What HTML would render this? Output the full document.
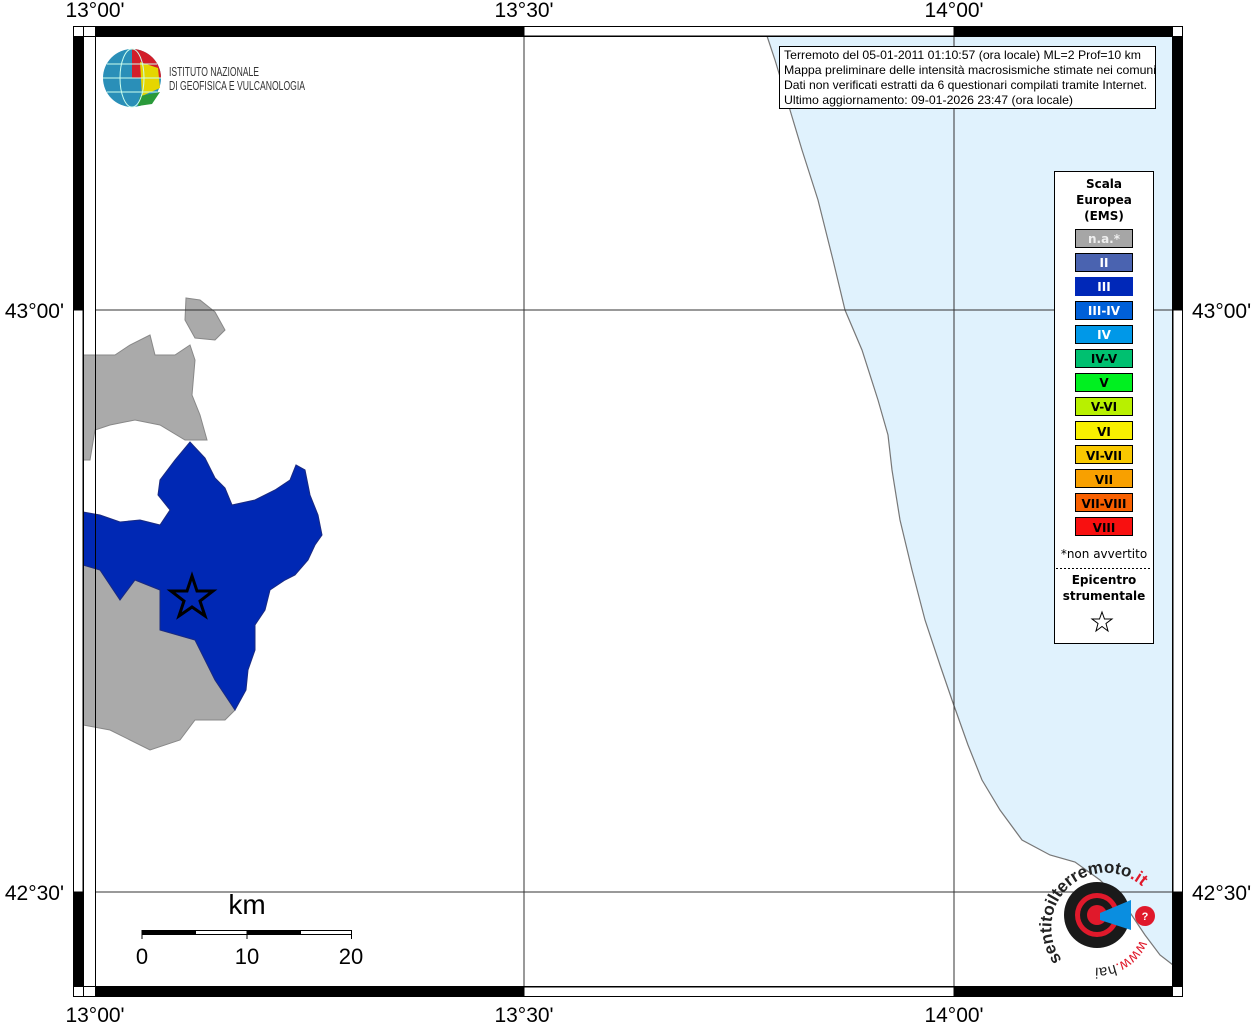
<!DOCTYPE html>
<html><head><meta charset="utf-8"><style>
body{margin:0;background:#fff;}
svg{font-family:"Liberation Sans",sans-serif;}
.dv{font-family:"DejaVu Sans",sans-serif;}
</style></head><body>
<svg width="1256" height="1024" viewBox="0 0 1256 1024" xmlns="http://www.w3.org/2000/svg">
<rect width="1256" height="1024" fill="#fff"/>
<!-- sea -->
<path d="M767,36 L775,60 L790,110 L802,150 L818,200 L833,260 L845,310 L862,350 L878,400 L888,435 L892,470 L900,520 L912,570 L925,620 L940,665 L952,700 L968,745 L982,780 L1000,810 L1022,840 L1050,855 L1075,862 L1100,880 L1125,905 L1145,935 L1160,955 L1173,965 L1173,36 Z" fill="#e0f2fd" stroke="none"/>
<path d="M767,36 L775,60 L790,110 L802,150 L818,200 L833,260 L845,310 L862,350 L878,400 L888,435 L892,470 L900,520 L912,570 L925,620 L940,665 L952,700 L968,745 L982,780 L1000,810 L1022,840 L1050,855 L1075,862 L1100,880 L1125,905 L1145,935 L1160,955 L1173,965" fill="none" stroke="#777" stroke-width="1.2"/>
<!-- gray lands -->
<path d="M186,298 L200,300 L215,312 L225,330 L215,340 L195,338 L185,320 Z" fill="#aaa" stroke="#888"/>
<path d="M83,355 L115,355 L130,345 L150,335 L155,355 L175,355 L190,345 L195,360 L192,395 L200,415 L207,440 L185,440 L160,425 L135,420 L110,425 L95,430 L90,460 L83,460 Z" fill="#aaa" stroke="#888"/>
<path d="M83,565 L100,570 L120,600 L135,580 L160,590 L160,630 L195,640 L215,680 L235,710 L225,720 L195,720 L180,740 L150,750 L130,740 L110,730 L83,725 Z" fill="#aaa" stroke="#888"/>
<!-- blue -->
<path d="M83,512 L100,515 L120,522 L140,520 L160,525 L170,510 L158,495 L160,480 L175,460 L190,442 L205,458 L215,478 L225,488 L232,505 L255,500 L275,490 L290,480 L296,465 L305,470 L310,495 L318,515 L322,535 L315,545 L308,560 L295,575 L285,580 L270,590 L265,610 L255,625 L255,650 L248,670 L246,690 L235,710 L215,680 L195,640 L160,630 L160,590 L135,580 L120,600 L100,570 L83,565 Z" fill="#0028b4" stroke="#1a2a80"/>
<!-- star -->
<polygon points="192,576 197,591 213,591 200,601 205,616 192,607 179,616 184,601 171,591 187,591" fill="none" stroke="#000" stroke-width="3"/>
<!-- grid -->
<g stroke="#333" stroke-width="1">
<line x1="524" y1="36" x2="524" y2="987"/><line x1="954" y1="36" x2="954" y2="987"/>
<line x1="95" y1="310" x2="1173" y2="310"/><line x1="95" y1="892" x2="1173" y2="892"/>
</g>
<!-- frame -->
<rect x="73.5" y="26.5" width="1109" height="970" fill="none" stroke="#000"/>
<rect x="95.5" y="36.5" width="1077" height="950" fill="none" stroke="#000"/>
<g fill="#000">
<rect x="95" y="26" width="429" height="10"/><rect x="954" y="26" width="219" height="10"/>
<rect x="95" y="987" width="429" height="10"/><rect x="954" y="987" width="219" height="10"/>
<rect x="73" y="36" width="10" height="274"/><rect x="73" y="892" width="10" height="95"/>
<rect x="1173" y="36" width="10" height="274"/><rect x="1173" y="892" width="10" height="95"/>
</g>
<g fill="none" stroke="#000" stroke-width="1">
<line x1="83.5" y1="26" x2="83.5" y2="997"/><line x1="1172.5" y1="26" x2="1172.5" y2="997"/>
<line x1="73" y1="36.5" x2="1183" y2="36.5"/><line x1="73" y1="986.5" x2="1183" y2="986.5"/>
<rect x="524" y="26.5" width="430" height="9.5"/><rect x="524" y="987" width="430" height="9.5"/>
<rect x="73.5" y="310" width="9.5" height="582"/><rect x="1173" y="310" width="9.5" height="582"/>
</g>
<!-- labels -->
<g font-size="21" fill="#000">
<text x="95" y="17" text-anchor="middle">13°00'</text>
<text x="524" y="17" text-anchor="middle">13°30'</text>
<text x="954" y="17" text-anchor="middle">14°00'</text>
<text x="95" y="1022" text-anchor="middle">13°00'</text>
<text x="524" y="1022" text-anchor="middle">13°30'</text>
<text x="954" y="1022" text-anchor="middle">14°00'</text>
<text x="64" y="318" text-anchor="end">43°00'</text>
<text x="64" y="900" text-anchor="end">42°30'</text>
<text x="1192" y="318">43°00'</text>
<text x="1192" y="900">42°30'</text>
</g>
<!-- INGV logo -->
<circle cx="132" cy="78" r="29" fill="#2a8fb8"/>
<path d="M132,49 A29,29 0 0,1 161,78 L132,78 Z" fill="#d21e2a"/>
<path d="M140,62 L158,68 L160,88 L142,96 Z" fill="#e5d600"/>
<path d="M140,96 L160,92 L152,104 L138,106 Z" fill="#2a9a3a"/>
<g stroke="#cfe" stroke-width="1" fill="none"><ellipse cx="132" cy="78" rx="12" ry="29"/><line x1="103" y1="78" x2="161" y2="78"/><line x1="107" y1="64" x2="157" y2="64"/><line x1="107" y1="92" x2="157" y2="92"/></g>
<text x="169" y="76" font-size="13" fill="#333" textLength="90" lengthAdjust="spacingAndGlyphs">ISTITUTO NAZIONALE</text>
<text x="169" y="90" font-size="13" fill="#333" textLength="136" lengthAdjust="spacingAndGlyphs">DI GEOFISICA E VULCANOLOGIA</text>
<!-- info box -->
<rect x="779.5" y="46.5" width="376" height="62" fill="#fff" stroke="#000"/>
<g font-size="12" fill="#000" lengthAdjust="spacingAndGlyphs">
<text x="784" y="59" textLength="357" lengthAdjust="spacingAndGlyphs">Terremoto del 05-01-2011 01:10:57 (ora locale) ML=2 Prof=10 km</text>
<text x="784" y="74" textLength="372" lengthAdjust="spacingAndGlyphs">Mappa preliminare delle intensità macrosismiche stimate nei comuni</text>
<text x="784" y="89" textLength="363" lengthAdjust="spacingAndGlyphs">Dati non verificati estratti da 6 questionari compilati tramite Internet.</text>
<text x="784" y="104" textLength="289" lengthAdjust="spacingAndGlyphs">Ultimo aggiornamento: 09-01-2026 23:47 (ora locale)</text>
</g>
<!-- legend -->
<rect x="1054.5" y="171.5" width="99" height="472" fill="#fff" stroke="#000"/>
<g class="dv" font-weight="bold" font-size="12" text-anchor="middle" fill="#000">
<text x="1104" y="188">Scala</text>
<text x="1104" y="204">Europea</text>
<text x="1104" y="220">(EMS)</text>
</g>
<g stroke="#000" stroke-width="1">
<rect x="1075.5" y="229.5" width="57" height="18" fill="#a6a6a6"/>
<rect x="1075.5" y="253.5" width="57" height="18" fill="#4a63b0"/>
<rect x="1075.5" y="277.5" width="57" height="18" fill="#0028b8" stroke="#0028b8"/>
<rect x="1075.5" y="301.5" width="57" height="18" fill="#0060d8"/>
<rect x="1075.5" y="325.5" width="57" height="18" fill="#0098e8"/>
<rect x="1075.5" y="349.5" width="57" height="18" fill="#00c070"/>
<rect x="1075.5" y="373.5" width="57" height="18" fill="#00f020"/>
<rect x="1075.5" y="397.5" width="57" height="18" fill="#b8f000"/>
<rect x="1075.5" y="421.5" width="57" height="18" fill="#f8f000"/>
<rect x="1075.5" y="445.5" width="57" height="18" fill="#f8c800"/>
<rect x="1075.5" y="469.5" width="57" height="18" fill="#f8a000"/>
<rect x="1075.5" y="493.5" width="57" height="18" fill="#f86000"/>
<rect x="1075.5" y="517.5" width="57" height="18" fill="#f81010"/>
</g>
<g class="dv" font-weight="bold" font-size="12" text-anchor="middle">
<text x="1104" y="243" fill="#eee">n.a.*</text>
<text x="1104" y="267" fill="#fff">II</text>
<text x="1104" y="291" fill="#fff">III</text>
<text x="1104" y="315" fill="#fff">III-IV</text>
<text x="1104" y="339" fill="#fff">IV</text>
<text x="1104" y="363" fill="#000">IV-V</text>
<text x="1104" y="387" fill="#000">V</text>
<text x="1104" y="411" fill="#000">V-VI</text>
<text x="1104" y="436" fill="#000">VI</text>
<text x="1104" y="460" fill="#000">VI-VII</text>
<text x="1104" y="484" fill="#000">VII</text>
<text x="1104" y="508" fill="#000">VII-VIII</text>
<text x="1104" y="532" fill="#000">VIII</text>
</g>
<text class="dv" x="1104" y="558" font-size="12" text-anchor="middle">*non avvertito</text>
<line x1="1056" y1="568.5" x2="1152" y2="568.5" stroke="#000" stroke-dasharray="2,2"/>
<g class="dv" font-weight="bold" font-size="12" text-anchor="middle">
<text x="1104" y="584">Epicentro</text>
<text x="1104" y="600">strumentale</text>
</g>
<polygon points="1102,612 1104.5,619 1112,619 1106,623.5 1108,631 1102,626.5 1096,631 1098,623.5 1092,619 1099.5,619" fill="#fff" stroke="#000"/>
<!-- scale bar -->
<text x="247" y="914" font-size="28" text-anchor="middle">km</text>
<rect x="142" y="930" width="53" height="5" fill="#000"/>
<rect x="195.5" y="930.5" width="52" height="4" fill="#fff" stroke="#000"/>
<rect x="247" y="930" width="53" height="5" fill="#000"/>
<rect x="300.5" y="930.5" width="51" height="4" fill="#fff" stroke="#000"/>
<g stroke="#000"><line x1="142" y1="930" x2="142" y2="939"/><line x1="247" y1="930" x2="247" y2="939"/><line x1="351.5" y1="930" x2="351.5" y2="939"/></g>
<g font-size="22" text-anchor="middle"><text x="142" y="964">0</text><text x="247" y="964">10</text><text x="351" y="964">20</text></g>
<!-- haisentito logo -->
<circle cx="1097" cy="915" r="33" fill="#1a1a1a"/>
<circle cx="1097" cy="915" r="22" fill="#e0192b"/>
<circle cx="1097" cy="915" r="17" fill="#1a1a1a"/>
<circle cx="1097" cy="915" r="10" fill="#e0192b"/>
<polygon points="1100,913 1131,900 1131,930 1100,920" fill="#0a8ee0"/>
<circle cx="1145" cy="916" r="10" fill="#e0192b"/>
<text x="1145" y="920" font-size="11" fill="#fff" text-anchor="middle" font-weight="bold">?</text>
<defs><path id="arc" d="M1062,960 A46,46 0 1,1 1150,895"/><path id="arc2" d="M1140,940 A46,46 0 0,1 1066,955"/></defs>
<text font-size="17" font-weight="bold" fill="#222"><textPath href="#arc">sentitoilterremoto<tspan fill="#e0192b">.it</tspan></textPath></text>
<text font-size="15" fill="#222"><textPath href="#arc2"><tspan fill="#e0192b">www.</tspan>hai</textPath></text>
</svg>
</body></html>
